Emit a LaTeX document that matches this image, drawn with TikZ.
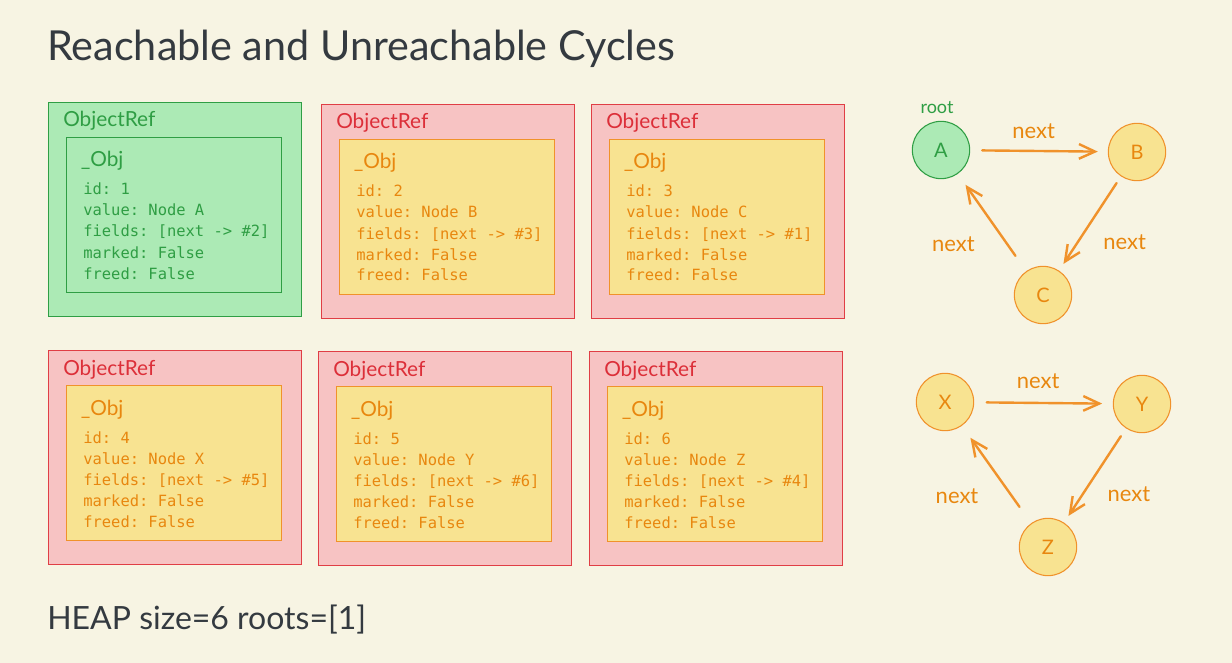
\documentclass[tikz,border=0pt]{standalone}
\usepackage{fontspec}
\setmainfont{Lato}
\setsansfont{Lato}
\setmonofont{DejaVu Sans Mono}
\usetikzlibrary{arrows.meta,positioning}
\definecolor{PageBg}{HTML}{F7F4E3}
\definecolor{HeapInk}{HTML}{343A40}
\definecolor{LiveRefLine}{HTML}{2F9E44}
\definecolor{LiveRefFill}{HTML}{ACEAB5}
\colorlet{LiveRefInk}{LiveRefLine}
\colorlet{LiveObjLine}{LiveRefLine}
\colorlet{LiveObjFill}{LiveRefFill}
\colorlet{LiveObjInk}{LiveRefLine}
\definecolor{DeadRefLine}{HTML}{E03E45}
\definecolor{DeadRefFill}{HTML}{F7C3C3}
\definecolor{DeadRefInk}{HTML}{DC2F39}
\definecolor{DeadObjLine}{HTML}{F0922B}
\definecolor{DeadObjFill}{HTML}{F8E391}
\definecolor{DeadObjInk}{HTML}{E8870F}
\tikzset{
  every node/.style={font=\sffamily, inner sep=0pt},
  heading/.style={font=\fontsize{31}{36}\selectfont, text=HeapInk, anchor=base west},
  refbox/.style={draw=#1RefLine, fill=#1RefFill, line width=1.1pt, minimum width=189.75pt, minimum height=160.5pt, anchor=north west},
  objbox/.style={draw=#1ObjLine, fill=#1ObjFill, line width=1.1pt, minimum width=161.25pt, minimum height=116.25pt, anchor=north west},
  reflabel/.style={font=\fontsize{15.6}{18}\selectfont, text=#1RefInk, anchor=base west},
  objlabel/.style={font=\fontsize{15.6}{18}\selectfont, text=#1ObjInk, anchor=base west},
  field/.style={font=\ttfamily\fontsize{11.6}{14}\selectfont, text=#1ObjInk, anchor=base west},
  cell/.style={circle, draw=#1ObjLine, fill=#1ObjFill, line width=0.8pt, minimum size=43pt, text=#1ObjInk, font=\fontsize{15}{18}\selectfont},
  nextlabel/.style={font=\fontsize{16.5}{20}\selectfont, text=DeadObjInk},
  nextarrow/.style={-{Straight Barb[length=12pt,width=11pt]}, draw=DeadObjLine, line width=1.8pt, line cap=round},
}
\begin{document}
\begin{tikzpicture}[x=0.75pt,y=-0.75pt]
  \useasboundingbox (0,0) rectangle (1232,663);
  \fill[PageBg] (0,0) rectangle (1232,663);
  \node[heading] (title) at (47,61) {Reachable and Unreachable Cycles};
  % heap objects: one ObjectRef wrapping one _Obj each
  \foreach \id/\bx/\by/\kind/\val/\nxt in {1/48/102/Live/A/2, 2/321/104/Dead/B/3, 3/591/104/Dead/C/1,
                                          4/48/350/Dead/X/5, 5/318/351/Dead/Y/6, 6/589/351/Dead/Z/4} {
    \node[refbox=\kind] (ref\id) at (\bx,\by) {};
    \node[reflabel=\kind] (hdr\id) at (\bx+15,\by+25) {ObjectRef};
    \node[objbox=\kind] (obj\id) at (\bx+17.5,\by+35) {};
    \node[objlabel=\kind] (cls\id) at (\bx+32.5,\by+65) {\_Obj};
    \foreach \txt [count=\k from 0] in {id: \id, value: Node \val, fields: [next -> \#\nxt], marked: False, freed: False}
      \node[field=\kind] (fld\id-\k) at (\bx+35,\by+93+21*\k) {\txt};
  }
  % reachable cycle
  \node[cell=Live] (A) at (941,150) {A};
  \node[cell=Dead] (B) at (1137,152) {B};
  \node[cell=Dead] (C) at (1043,295) {C};
  \node[font=\fontsize{13.5}{16}\selectfont, text=LiveRefInk, above=5pt of A, xshift=-3pt] (root) {root};
  \draw[nextarrow, shorten <=9pt, shorten >=7.5pt] (A) -- node[nextlabel, xshift=-4pt, yshift=15pt] {next} (B);
  \draw[nextarrow, shorten <=6pt, shorten >=6pt] (B) -- node[nextlabel, xshift=26pt, yshift=-14pt] {next} (C);
  \draw[nextarrow, shorten <=14pt, shorten >=10pt] (C) -- node[nextlabel, xshift=-29pt, yshift=-16pt] {next} (A);
  % unreachable cycle
  \node[cell=Dead] (X) at (945,402) {X};
  \node[cell=Dead] (Y) at (1142,404) {Y};
  \node[cell=Dead] (Z) at (1048,547) {Z};
  \draw[nextarrow, shorten <=9.4pt, shorten >=8pt] (X) -- node[nextlabel, xshift=-4pt, yshift=16pt] {next} (Y);
  \draw[nextarrow, shorten <=7pt, shorten >=6pt] (Y) -- node[nextlabel, xshift=25.5pt, yshift=-14pt] {next} (Z);
  \draw[nextarrow, shorten <=15pt, shorten >=11pt] (Z) -- node[nextlabel, xshift=-29.6pt, yshift=-16pt] {next} (X);
  \node[heading, font=\fontsize{24}{29}\selectfont] (heap) at (47,629) {HEAP size=6 roots=[1]};
\end{tikzpicture}
\end{document}
